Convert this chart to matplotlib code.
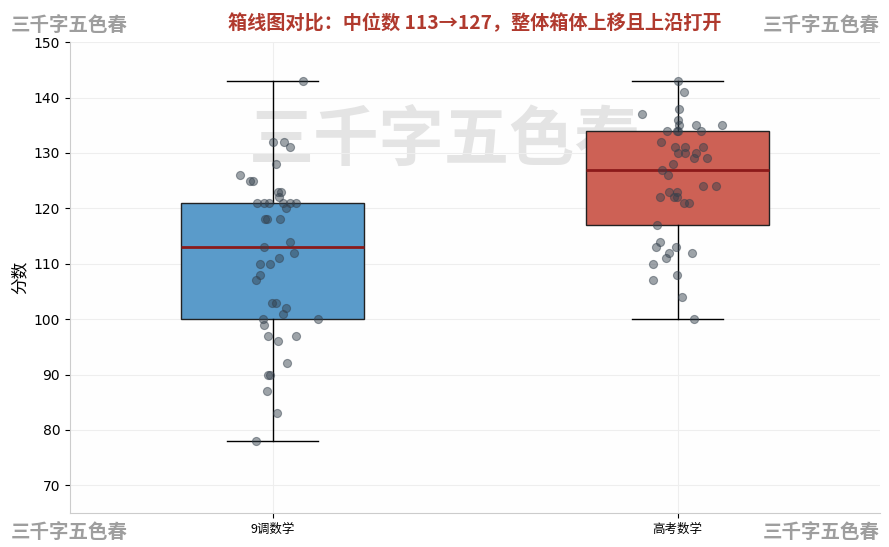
import numpy as np
import matplotlib
matplotlib.use("Agg")
import matplotlib.pyplot as plt

plt.rcParams['font.family'] = ['DejaVu Sans', 'Noto Sans CJK SC']
CJK = ['Noto Sans CJK SC', 'DejaVu Sans']

labels = ['9调数学', '高考数学']

# scores, with the horizontal jitter of each dot
scores_9 = [143, 132, 132, 131, 128, 126, 125, 125, 123, 123, 122,
            121, 121, 121, 121, 121, 121, 120, 118, 118, 118, 114, 113,
            112, 111, 110, 110, 108, 107, 103, 103, 102, 101, 100, 100,
            99, 97, 97, 96, 92, 90, 90, 87, 83, 78]
jitter_9 = [0.075, 0.0, 0.028, 0.044, 0.008, -0.081, -0.056, -0.049, 0.013, 0.021, 0.017,
            -0.039, -0.021, -0.009, 0.027, 0.043, 0.058, 0.033, -0.019, -0.013, 0.018, 0.043, -0.02,
            0.053, 0.016, -0.031, -0.007, -0.031, -0.04, -0.002, 0.008, 0.034, 0.026, -0.024, 0.112,
            -0.02, -0.012, 0.059, 0.013, 0.035, -0.012, -0.006, -0.014, 0.011, -0.041]

scores_gk = [143, 141, 138, 137, 136, 135, 135, 135, 134, 134, 134, 134,
             132, 131, 131, 131, 130, 130, 130, 129, 129, 128, 127, 126,
             124, 124, 123, 123, 122, 122, 122, 121, 121, 117, 114, 113, 113,
             112, 112, 111, 110, 108, 107, 104, 100]
jitter_gk = [0.001, 0.016, 0.003, -0.088, 0.001, 0.003, 0.045, 0.11, -0.026, -0.002, 0.001, 0.058,
             -0.042, -0.007, 0.019, 0.062, 0.0, 0.019, 0.045, 0.04, 0.072, -0.012, -0.039, -0.024,
             0.062, 0.096, -0.021, -0.002, -0.044, -0.008, -0.002, 0.016, 0.029, -0.051, -0.044, -0.054, -0.004,
             0.035, -0.021, -0.029, -0.061, -0.002, -0.061, 0.012, 0.04]

box_colors = ['#5a9bca', '#cd6155']

fig = plt.figure(figsize=(8.89, 5.47), dpi=100)
ax = fig.add_axes([0.0787, 0.062, 0.9113, 0.861])
ax.set_facecolor('#fefefe')

# big watermark behind the boxes
ax.text(0.5, 0.742, '三千字五色春', fontsize=47, fontweight='bold', color='#e4e4e4',
        ha='center', va='center', family=CJK, zorder=0.1, transform=fig.transFigure)

bp = ax.boxplot([scores_9, scores_gk], positions=[0, 1], widths=0.45, patch_artist=True,
                whis=1.5, showfliers=False,
                medianprops=dict(color='#8b1a1a', linewidth=2),
                whiskerprops=dict(color='black', linewidth=1),
                capprops=dict(color='black', linewidth=1),
                boxprops=dict(edgecolor='#222222', linewidth=1))
for patch, c in zip(bp['boxes'], box_colors):
    patch.set_facecolor(c)
    patch.set_edgecolor('#222222')

for i, (s, j) in enumerate([(scores_9, jitter_9), (scores_gk, jitter_gk)]):
    ax.scatter(i + np.array(j), s, s=34, color='#34404c', alpha=0.48,
               edgecolors='#34404c', linewidths=0.8, zorder=3)

ax.set_xlim(-0.5, 1.5)
ax.set_ylim(65, 150)
ax.set_xticks([0, 1])
ax.set_xticklabels(labels, family=CJK, fontsize=9)
ax.set_yticks(np.arange(70, 151, 10))
ax.tick_params(axis='y', labelsize=10)
ax.set_ylabel('分数', family=CJK, fontsize=12)
ax.grid(True, color='#eeeeee', linewidth=0.8)
ax.set_axisbelow(True)
for side in ['top', 'right']:
    ax.spines[side].set_visible(False)
for side in ['left', 'bottom']:
    ax.spines[side].set_color('#cccccc')

ax.set_title('箱线图对比：中位数 113→127，整体箱体上移且上沿打开', family=CJK,
             fontsize=13.8, fontweight='bold', color='#b03a2e', pad=9)

for x, y, ha in [(0.012, 0.952, 'left'), (0.99, 0.952, 'right'),
                 (0.012, 0.024, 'left'), (0.99, 0.024, 'right')]:
    fig.text(x, y, '三千字五色春', fontsize=14, fontweight='bold', color='#9e9e9e',
             ha=ha, va='center', family=CJK)

fig.savefig('out.png', dpi=100)
